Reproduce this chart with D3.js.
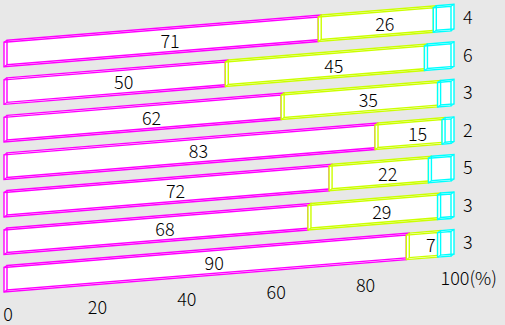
<!DOCTYPE html>
<html>
<head>
<meta charset="utf-8">
<script src="https://cdn.jsdelivr.net/npm/d3@7"></script>
<style>
  html, body { margin: 0; padding: 0; background: #e8e8e8; }
  svg { display: block; }
  text { font-family: "Noto Sans CJK JP", "Noto Sans", sans-serif; font-weight: 300; }
</style>
</head>
<body>
<svg id="chart" width="505" height="325"></svg>
<script>
// ---- data ----
const categories = ["r1", "r2", "r3", "r4", "r5", "r6", "r7"];
const seriesA = [71, 50, 62, 83, 72, 68, 90];
const seriesB = [26, 45, 35, 15, 22, 29, 7];
const seriesC = [4, 6, 3, 2, 5, 3, 3];
const tickValues = [0, 20, 40, 60, 80, 100];
const tickLabels = ["0", "20", "40", "60", "80", "100"];
const tickSuffix = ["", "", "", "", "", "(%)"];
const seriesKeys = ["a", "b", "c"];
const colors = ["#ff00ff", "#ccff00", "#00ffff"];

const table = categories.map((c, i) => ({ cat: c, a: seriesA[i], b: seriesB[i], c: seriesC[i] }));

// ---- layout ----
const W = 505, H = 325;
const slope = 0.0805;            // upward skew of the bars
const depth = { dx: 3, dy: -2 }; // 3D depth offset
const x0 = 4;

const svg = d3.select("#chart");
svg.append("rect").attr("width", W).attr("height", H).attr("fill", "#e8e8e8");

const x = d3.scaleLinear().domain([0, 1]).range([x0, 451]);
const y = d3.scaleBand().domain(categories).range([42.3, 292]).paddingInner(0.347).paddingOuter(0);
const bw = y.bandwidth();
const sk = px => -slope * (px - x0);

const stack = d3.stack().keys(seriesKeys).offset(d3.stackOffsetExpand);
const stacked = stack(table);

function facePts(xa, xb, top, dx, dy) {
  const bot = top + bw;
  return [
    [xa + dx, top + sk(xa) + dy],
    [xb + dx, top + sk(xb) + dy],
    [xb + dx, bot + sk(xb) + dy],
    [xa + dx, bot + sk(xa) + dy]
  ];
}
const line = d3.line();

const g = svg.append("g");

categories.forEach((cat, ri) => {
  const top = y(cat);
  stacked.forEach((ser, si) => {
    const d = ser[ri];
    const xa = x(d[0]), xb = x(d[1]);
    const front = facePts(xa, xb, top, 0, 0);
    const back = facePts(xa, xb, top, depth.dx, depth.dy);
    const sg = g.append("g");
    const hull = d3.polygonHull(front.concat(back));
    sg.append("path").attr("d", line(hull) + "Z").attr("fill", "#fff").attr("stroke", "none");
    sg.append("path").attr("d", line(back) + "Z")
      .attr("fill", "none").attr("stroke", colors[si]).attr("stroke-width", 1.4);
    sg.append("path").attr("d", line(front) + "Z")
      .attr("fill", "none").attr("stroke", colors[si]).attr("stroke-width", 1.4);
    front.forEach((p, k) => {
      sg.append("path").attr("d", line([p, back[k]]))
        .attr("stroke", colors[si]).attr("stroke-width", 1.1);
    });
  });
});

// ---- value labels ----
const lab = svg.append("g").attr("font-size", 18).attr("fill", "#000");
categories.forEach((cat, ri) => {
  const center = y(cat) + bw / 2;
  stacked.forEach((ser, si) => {
    const d = ser[ri];
    const val = [seriesA, seriesB, seriesC][si][ri];
    if (si < 2) {
      const lx = x((d[0] + d[1]) / 2) + 9;
      lab.append("text").attr("x", lx).attr("y", center + sk(lx) - 1)
        .attr("text-anchor", "middle").attr("dominant-baseline", "central").text(val);
    } else {
      const lx = x(1) + 12;
      lab.append("text").attr("x", lx).attr("y", center + sk(lx + 5) - 1)
        .attr("text-anchor", "start").attr("dominant-baseline", "central").text(val);
    }
  });
});

// ---- axis labels ----
const ax = svg.append("g").attr("font-size", 18).attr("fill", "#000");
tickValues.forEach((v, i) => {
  const cx = x(v / 100) + 4;
  const t = ax.append("text").attr("y", 321.2 + sk(cx));
  const n = t.append("tspan").text(tickLabels[i]);
  if (tickSuffix[i]) t.append("tspan").text(tickSuffix[i]);
  const w = n.node().getComputedTextLength();
  t.attr("x", cx - w / 2);
});
</script>
</body>
</html>
